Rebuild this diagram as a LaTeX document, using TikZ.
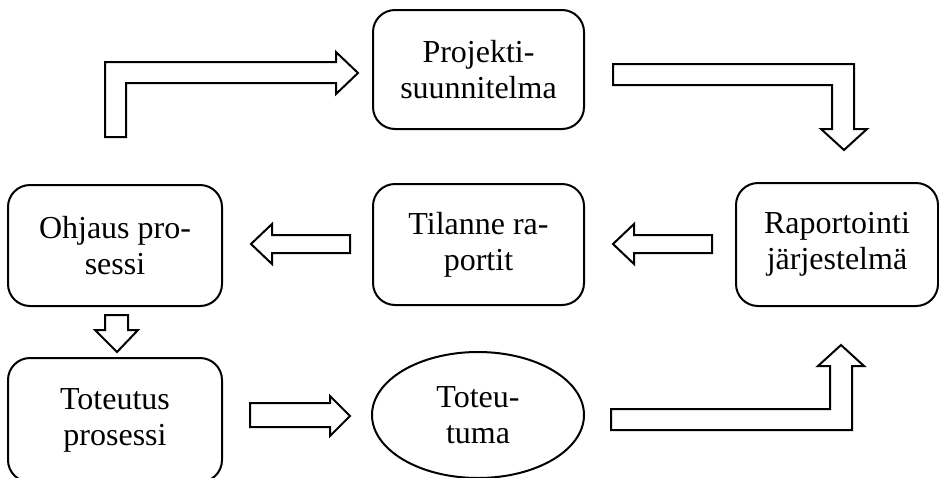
\documentclass[tikz,border=0pt]{standalone}
\usepackage{fontspec}
\setmainfont{Liberation Serif}
\usetikzlibrary{shapes.geometric}
\begin{document}
\begin{tikzpicture}[x=1pt,y=-1pt,
  lbl/.style={font=\fontsize{32}{36}\selectfont, align=center, inner sep=0pt},
  rbox/.style={lbl, draw, line width=2pt, rounded corners=22pt},
  oval/.style={lbl, draw, line width=2pt, ellipse},
  blockarrow/.style={draw, line width=2pt, fill=white, line join=miter}]
\useasboundingbox (0,0) rectangle (939,477);
\clip (0,0) rectangle (939,477);
% boxes
\node[rbox, minimum width=211pt, minimum height=119pt] (proj) at (478.5,69.5) {Projekti-\\suunnitelma};
\node[rbox, minimum width=211pt, minimum height=121pt] (tila) at (478.5,244.5) {Tilanne ra-\\portit};
\node[rbox, minimum width=202pt, minimum height=123pt] (rapo) at (837,244.5) {Raportointi\\järjestelmä};
\node[rbox, minimum width=214pt, minimum height=121pt] (ohja) at (115,245.5) {Ohjaus pro-\\sessi};
\node[rbox, minimum width=214pt, minimum height=124pt] (tote) at (115,420) {Toteutus\\prosessi};
\node[oval, minimum width=212pt, minimum height=126pt] (tuma) at (478,415) {Toteu-\\tuma};
% block arrows
\draw[blockarrow] (105,137) -- (105,62) -- (336,62) -- (336,52) -- (358,73) -- (336,94) -- (336,83) -- (126,83) -- (126,137) -- cycle;
\draw[blockarrow] (613,64) -- (854,64) -- (854,129) -- (867,129) -- (844,150) -- (821,129) -- (832,129) -- (832,85) -- (613,85) -- cycle;
\draw[blockarrow] (611,430) -- (852,430) -- (852,366) -- (864,366) -- (841,345) -- (818,366) -- (830,366) -- (830,409) -- (611,409) -- cycle;
\draw[blockarrow] (350,235) -- (272,235) -- (272,224) -- (251,244) -- (272,264) -- (272,253) -- (350,253) -- cycle;
\draw[blockarrow] (712,235) -- (634,235) -- (634,224) -- (613,244) -- (634,264) -- (634,253) -- (712,253) -- cycle;
\draw[blockarrow] (105,315) -- (128,315) -- (128,330) -- (138,330) -- (117,352) -- (95,330) -- (105,330) -- cycle;
\draw[blockarrow] (250,403) -- (330,403) -- (330,396) -- (350,416) -- (330,436) -- (330,427) -- (250,427) -- cycle;
\end{tikzpicture}
\end{document}
